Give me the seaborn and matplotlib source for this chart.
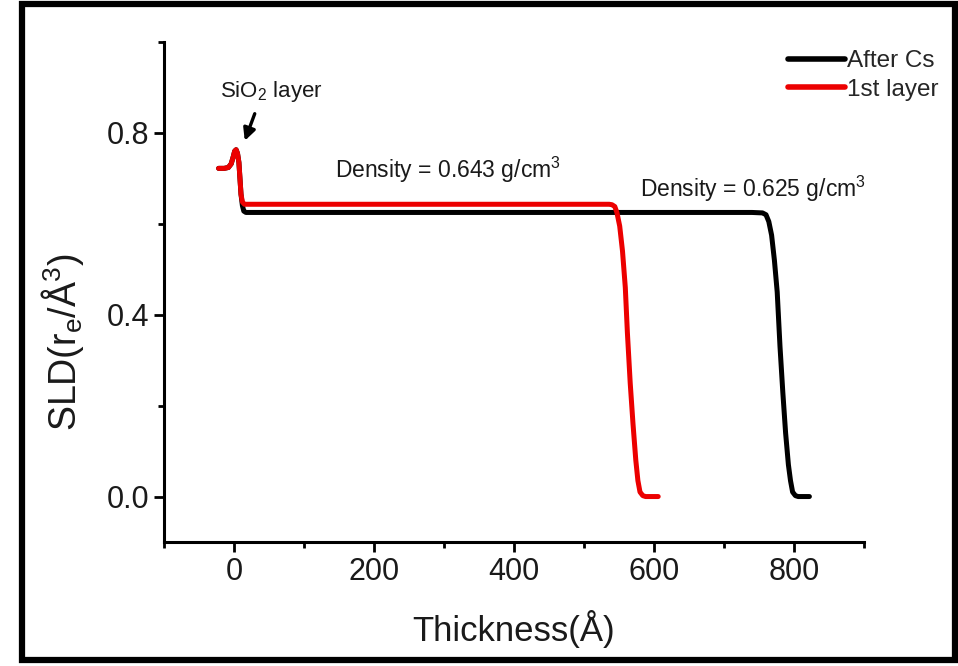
import matplotlib
matplotlib.use("Agg")
import matplotlib.pyplot as plt
from matplotlib.patches import Rectangle
import seaborn as sns
import pandas as pd

# ---- data ----
after_cs_x = [-22, -14, -8, -4, -1, 1, 3, 5, 7, 8.5, 10, 12, 14, 17, 25, 100, 200, 300, 400, 500, 600, 700,
              740, 755, 760, 764, 768, 772, 776, 780, 784, 788, 792, 795, 798, 802, 806, 822]
after_cs_y = [0.722, 0.722, 0.724, 0.732, 0.748, 0.760, 0.763, 0.755, 0.735, 0.700, 0.665, 0.640, 0.628, 0.625,
              0.625, 0.625, 0.625, 0.625, 0.625, 0.625, 0.625, 0.625,
              0.625, 0.624, 0.620, 0.605, 0.575, 0.520, 0.450, 0.330, 0.230, 0.140, 0.070, 0.035, 0.010,
              0.002, 0.0, 0.0]

first_x = [-22, -14, -8, -4, -1, 1, 3, 5, 7, 8.5, 10, 12, 15, 20, 100, 200, 300, 400, 500,
           536, 540, 544, 547, 551, 555, 559, 562, 566, 570, 574, 577, 580, 584, 588, 606]
first_y = [0.722, 0.722, 0.724, 0.732, 0.748, 0.760, 0.763, 0.755, 0.735, 0.700, 0.665, 0.648, 0.643, 0.643,
           0.643, 0.643, 0.643, 0.643, 0.643,
           0.643, 0.642, 0.638, 0.625, 0.595, 0.540, 0.460, 0.360, 0.250, 0.160, 0.080, 0.035, 0.010,
           0.002, 0.0, 0.0]

series_names = ["After Cs", "1st layer"]
series_colors = ["#000000", "#ec0000"]

x_ticks = [0, 200, 400, 600, 800]
y_ticks = [0.0, 0.4, 0.8]

df = pd.concat([
    pd.DataFrame({"x": after_cs_x, "y": after_cs_y, "s": series_names[0]}),
    pd.DataFrame({"x": first_x, "y": first_y, "s": series_names[1]}),
], ignore_index=True)

sns.set_style("ticks")
plt.rcParams["font.family"] = ["Liberation Sans", "DejaVu Sans"]
plt.rcParams["mathtext.default"] = "regular"

fig = plt.figure(figsize=(9.58, 6.66), dpi=100)
ax = fig.add_axes([164 / 958, 1 - 542 / 666, 700 / 958, 500 / 666])

sns.lineplot(data=df, x="x", y="y", hue="s", hue_order=series_names,
             palette=series_colors, sort=False, estimator=None, lw=3.6, ax=ax,
             solid_capstyle="round")

ax.set_xlim(-100, 900)
ax.set_ylim(-0.1, 1.0)
ax.set_xticks(x_ticks)
ax.set_xticks([-100, 100, 300, 500, 700, 900], minor=True)
ax.set_yticks(y_ticks)
ax.set_yticks([0.2, 0.6, 1.0], minor=True)
ax.set_yticklabels([f"{v:.1f}" for v in y_ticks])
ax.tick_params(axis="both", which="major", direction="out", length=7.5, width=2.0,
               labelsize=22, color="black", labelcolor="#1a1a1a", pad=3)
ax.tick_params(axis="both", which="minor", direction="out", length=4.5, width=2.0, color="black")

for side in ["top", "right"]:
    ax.spines[side].set_visible(False)
for side in ["left", "bottom"]:
    ax.spines[side].set_linewidth(2.2)
    ax.spines[side].set_color("black")

ax.set_xlabel("Thickness(Å)", fontsize=25, color="#1a1a1a")
ax.set_ylabel("SLD(r$_e$/Å$^3$)", fontsize=27, color="#1a1a1a")
ax.xaxis.set_label_coords(0.5, -0.136)
ax.yaxis.set_label_coords(-0.111, 0.40)

leg = ax.legend(loc="upper left", bbox_to_anchor=(0.891, 0.984), frameon=False, fontsize=17.5,
                handlelength=2.35, handletextpad=0.08, labelspacing=0.27, borderaxespad=0,
                borderpad=0)
for line in leg.get_lines():
    line.set_linewidth(4)

ax.text(-20, 0.879, "SiO$_2$ layer", fontsize=16, color="#1a1a1a", ha="left", va="baseline")
ax.annotate("", xy=(14, 0.777), xytext=(31, 0.848),
            arrowprops=dict(arrowstyle="-|>", color="black", lw=2.4, mutation_scale=18))
ax.text(144, 0.700, "Density = 0.643 g/cm$^3$", fontsize=16.5, color="#1a1a1a", ha="left", va="baseline")
ax.text(580, 0.660, "Density = 0.625 g/cm$^3$", fontsize=16.5, color="#1a1a1a", ha="left", va="baseline")

fig.patches.append(Rectangle((22 / 958, 6 / 666), 933 / 958, 656 / 666, transform=fig.transFigure,
                             fill=False, edgecolor="black", lw=4.5, zorder=10))

fig.savefig("out.png", dpi=100, facecolor="white")
